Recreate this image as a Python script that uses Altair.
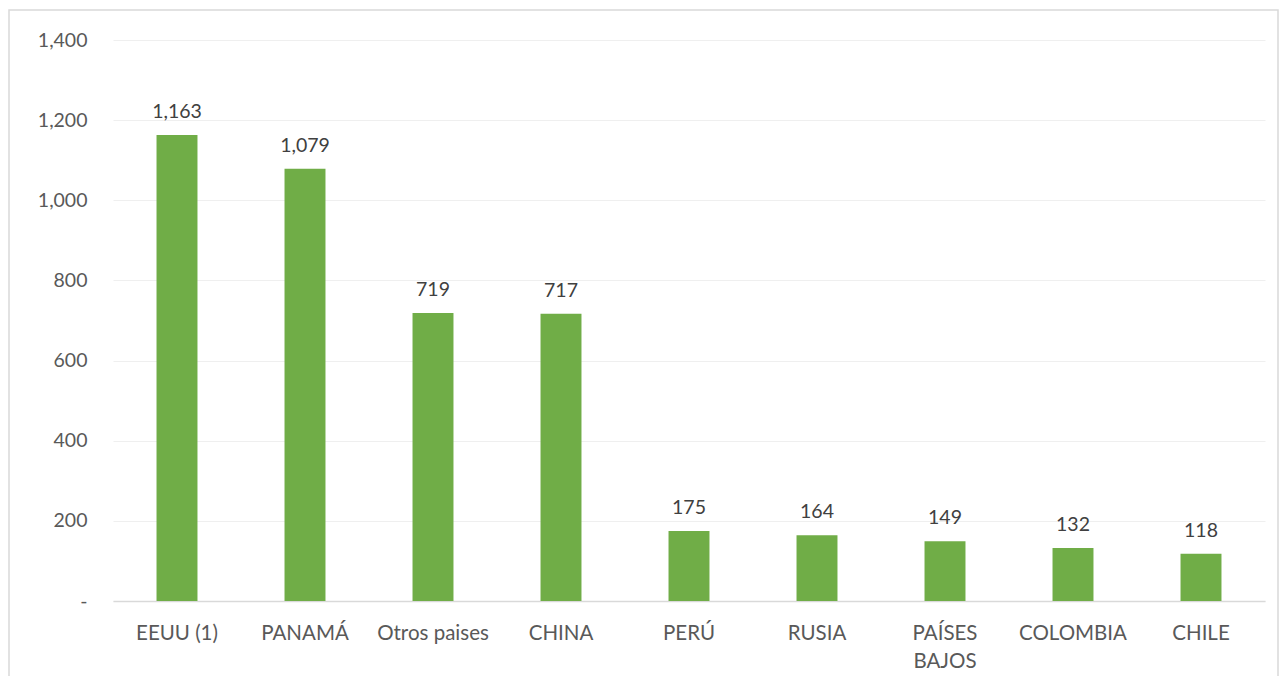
import altair as alt
import pandas as pd

countries = ["EEUU (1)", "PANAMÁ", "Otros paises", "CHINA", "PERÚ", "RUSIA", "PAÍSES|BAJOS", "COLOMBIA", "CHILE"]
values = [1163, 1079, 719, 717, 175, 164, 149, 132, 118]

df = pd.DataFrame({"pais": countries, "valor": values})

FONT = "Lato"
TXT = "#595959"

x = alt.X("pais:N", sort=countries, title=None,
          scale=alt.Scale(paddingInner=0.68, paddingOuter=0.34),
          axis=alt.Axis(labelAngle=0, labelFontSize=20.5, labelFont=FONT, labelColor=TXT,
                        ticks=False, domainColor="#d9d9d9", domainWidth=1.5,
                        labelPadding=22, labelLineHeight=28,
                        labelExpr="split(datum.label, '|')", grid=False))
y = alt.Y("valor:Q", title=None,
          scale=alt.Scale(domain=[0, 1400]),
          axis=alt.Axis(values=[0, 200, 400, 600, 800, 1000, 1200, 1400],
                        labelExpr="datum.value == 0 ? '-' : format(datum.value, ',')",
                        labelFontSize=19.5, labelFont=FONT, labelColor=TXT,
                        ticks=False, domain=False, labelPadding=26,
                        gridColor="#efefef", gridWidth=1))

frame = alt.Chart(alt.Data(values=[{}])).mark_rect(
    fillOpacity=0, stroke="#d9d9d9", strokeWidth=1.5
).encode(x=alt.value(-104), x2=alt.value(1165), y=alt.value(-30), y2=alt.value(660))

bars = alt.Chart(df).mark_bar(color="#70AD47").encode(x=x, y=y)
labels = alt.Chart(df).mark_text(baseline="alphabetic", dy=-17, fontSize=19.5, font=FONT,
                                 color="#404040").encode(
    x=alt.X("pais:N", sort=countries), y="valor:Q", text=alt.Text("valor:Q", format=","))

chart = alt.layer(frame, bars, labels).properties(
    width=1152, height=561,
    autosize=alt.AutoSizeParams(type="none"),
    padding={"left": 105, "top": 32, "right": 14, "bottom": 75},
).configure_view(stroke=None)

chart.save("out.html", embed_options={"renderer": "svg", "actions": False})
